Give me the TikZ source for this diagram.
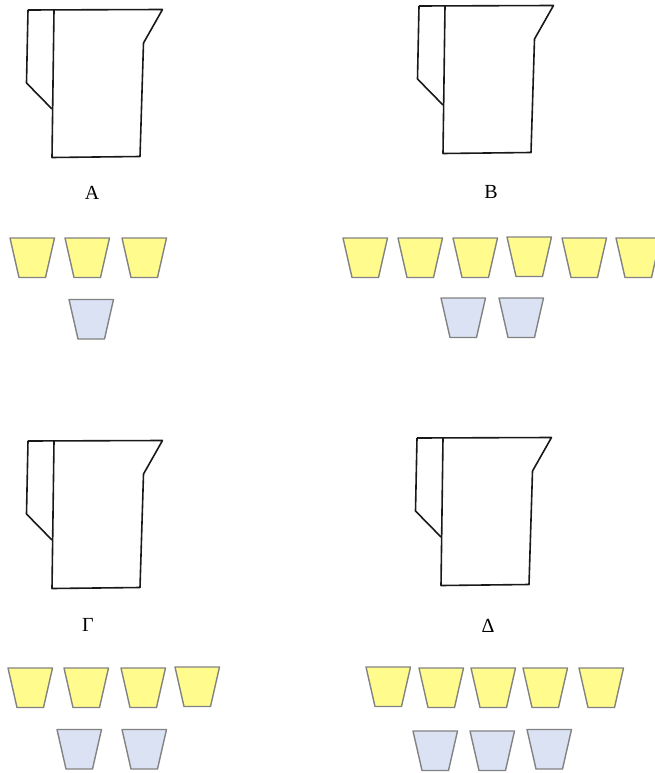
\documentclass[tikz,border=0pt]{standalone}
\usepackage{fontspec}
\setmainfont{Liberation Serif}
\definecolor{cupyellow}{RGB}{255,251,140}
\definecolor{cupblue}{RGB}{218,226,243}
\definecolor{cupedge}{RGB}{130,130,130}
\begin{document}
\begin{tikzpicture}[x=1pt,y=-1pt,
  jugline/.style={draw=black!90,line width=1.6pt,line join=round},
  cupbody/.style={draw=cupedge,line width=1.4pt,line join=round},
  yellowcup/.style={cupbody,fill=cupyellow},
  bluecup/.style={cupbody,fill=cupblue},
  caption/.style={anchor=base,inner sep=0pt,font=\fontsize{20}{22}\selectfont},
  pics/jug/.style={code={
    % body with spout
    \draw[jugline] (0,0) -- (134.5,-0.5) -- (115.5,33) -- (112,146.5) -- (24,147.5) -- (26,0);
    % handle
    \draw[jugline] (0,0) -- (-1.5,73) -- (24,99);
  }},
  pics/cup/.style={code={
    \draw[#1] (0,0) -- (44.5,0) -- (35.5,39.5) -- (9,39.5) -- cycle;
  }}]
\useasboundingbox (0,0) rectangle (655,773);

% jugs
\pic (jugA) at (28,10) {jug};
\pic (jugB) at (419,6) {jug};
\pic (jugC) at (28,441) {jug};
\pic (jugD) at (417,438) {jug};

% captions
\node[caption] (labA) at (92,199) {A};
\node[caption] (labB) at (491,198) {B};
\node[caption] (labC) at (88,631) {Γ};
\node[caption] (labD) at (488,632) {Δ};

% A: cups
\pic (ay1) at (10,238) {cup=yellowcup};
\pic (ay2) at (65,238) {cup=yellowcup};
\pic (ay3) at (122,238) {cup=yellowcup};
\pic (ab1) at (69,299.5) {cup=bluecup};

% B: cups
\pic (by1) at (343,238) {cup=yellowcup};
\pic (by2) at (398,238) {cup=yellowcup};
\pic (by3) at (453,238) {cup=yellowcup};
\pic (by4) at (507,237) {cup=yellowcup};
\pic (by5) at (562,238) {cup=yellowcup};
\pic (by6) at (616,238) {cup=yellowcup};
\pic (bb1) at (441,298) {cup=bluecup};
\pic (bb2) at (499,298) {cup=bluecup};

% Γ: cups
\pic (cy1) at (8,668) {cup=yellowcup};
\pic (cy2) at (64,668) {cup=yellowcup};
\pic (cy3) at (121,668) {cup=yellowcup};
\pic (cy4) at (175,667) {cup=yellowcup};
\pic (cb1) at (57,729.5) {cup=bluecup};
\pic (cb2) at (122,729.5) {cup=bluecup};

% Δ: cups
\pic (dy1) at (366,667) {cup=yellowcup};
\pic (dy2) at (419,668) {cup=yellowcup};
\pic (dy3) at (471,668) {cup=yellowcup};
\pic (dy4) at (523,668) {cup=yellowcup};
\pic (dy5) at (579,668) {cup=yellowcup};
\pic (db1) at (413,731) {cup=bluecup};
\pic (db2) at (470,731) {cup=bluecup};
\pic (db3) at (527,729.5) {cup=bluecup};
\end{tikzpicture}
\end{document}
